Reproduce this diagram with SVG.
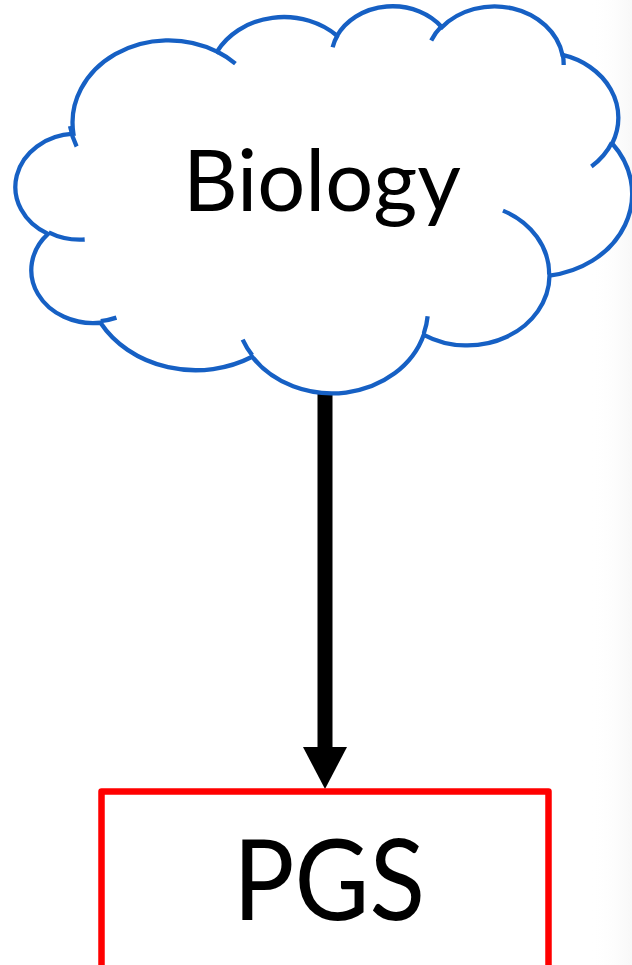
<svg xmlns="http://www.w3.org/2000/svg" width="632" height="965" viewBox="0 0 632 965">
  <defs>
    <linearGradient id="edgeShade" x1="0" y1="0" x2="1" y2="0">
      <stop offset="0" stop-color="#ffffff" stop-opacity="0"/>
      <stop offset="1" stop-color="#ededed" stop-opacity="1"/>
    </linearGradient>
    <style>
      .cloud-line { fill: none; stroke: #1660C4; stroke-width: 4.3; vector-effect: non-scaling-stroke; stroke-linecap: butt; }
      .cloud-fill { fill: #ffffff; stroke: none; }
      .label { font-family: Lato, "Open Sans", "Liberation Sans", sans-serif; fill: #000000; text-anchor: middle; }
      .box { fill: #ffffff; stroke: #FF0000; stroke-width: 6.5; stroke-linejoin: round; }
      .link { stroke: #000000; stroke-width: 15; fill: none; }
      .head { fill: #000000; stroke: none; }
    </style>
  </defs>

  <rect x="0" y="0" width="632" height="965" fill="#ffffff"/>
  <rect x="590" y="0" width="42" height="965" fill="url(#edgeShade)" opacity="0.4"/>

  <!-- connector: shaft plus arrowhead -->
  <g id="connectors">
    <line class="link" x1="325" y1="390" x2="325" y2="750"/>
    <polygon class="head" points="303,747 347,747 325,789"/>
  </g>

  <!-- cloud node, drawn in 43200-unit shape space -->
  <g id="node-biology">
    <g transform="translate(18,5) scale(0.01421,0.008958)">
      <path class="cloud-fill" d="M3900,14370 A6753,9190 0 0 1 14005,5202 A5333,7267 0 0 1 22456,3432 A4365,5945 0 0 1 29832,2479 A4857,6595 0 0 1 38317,5575 A5333,7273 0 0 1 41817,15459 A6775,9220 0 0 1 37404,30203 A5785,7867 0 0 1 28556,36814 A6752,9215 0 0 1 16480,39264 A7720,10543 0 0 1 5805,35471 A4360,5918 0 0 1 2113,25549 A4345,5945 0 0 1 3900,14370 Z"/>
      <path class="cloud-line" d="M3900,14370 A6753,9190 0 0 1 14005,5202 A5333,7267 0 0 1 22456,3432 A4365,5945 0 0 1 29832,2479 A4857,6595 0 0 1 38317,5575 A5333,7273 0 0 1 41817,15459 A6775,9220 0 0 1 37404,30203 A5785,7867 0 0 1 28556,36814 A6752,9215 0 0 1 16480,39264 A7720,10543 0 0 1 5805,35471 A4360,5918 0 0 1 2113,25549 A4345,5945 0 0 1 3900,14370 Z"/>
      <!-- inner lobe tails -->
      <path class="cloud-line" d="M4693,26177 A4345,5945 0 0 1 2160,25380 M6928,34899 A4360,5918 0 0 1 5820,35281 M16478,39090 A6752,9215 0 0 1 15810,37350 M28827,34751 A6752,9215 0 0 1 28560,36660 M34129,22954 A5785,7867 0 0 1 37380,30091 M41798,15354 A5333,7273 0 0 1 40350,18030 M38324,5426 A4857,6595 0 0 1 38400,6690 M29078,3952 A4857,6595 0 0 1 29821,2338 M22141,4720 A4365,5945 0 0 1 22500,3331 M14000,5192 A6753,9190 0 0 1 15300,6541 M4127,15789 A6753,9190 0 0 1 3663,13524"/>
    </g>
    <text class="label" x="322" y="211" font-size="86" textLength="278" lengthAdjust="spacingAndGlyphs">Biology</text>
  </g>

  <!-- box node -->
  <g id="node-pgs">
    <rect class="box" x="101.5" y="791.5" width="447" height="200"/>
    <text class="label" x="329" y="920" font-size="112" textLength="192" lengthAdjust="spacingAndGlyphs">PGS</text>
  </g>
</svg>
